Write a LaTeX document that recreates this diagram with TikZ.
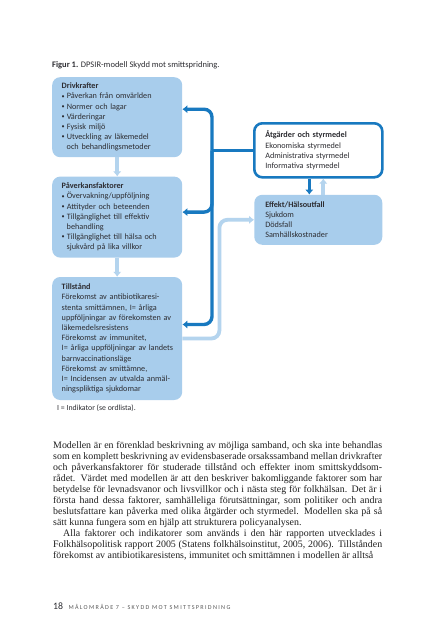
\documentclass[tikz,border=0pt]{standalone}
\usepackage{fontspec}
\usepackage{graphicx}
\setmainfont{Liberation Serif}
\newfontfamily\boxfont{Carlito}
\newfontfamily\runfont[LetterSpace=22]{Carlito}
\usetikzlibrary{positioning,arrows.meta}
\definecolor{boxblue}{RGB}{168,205,236}
\definecolor{paleblue}{RGB}{180,212,238}
\definecolor{linkblue}{RGB}{24,121,192}
\definecolor{inkgray}{RGB}{45,45,50}
\newcommand\itm{\raisebox{0.2ex}{\scalebox{0.75}{•}}\hspace{2pt}}

\begin{document}
\begin{tikzpicture}[x=1pt, y=-1pt,
  >={Latex[length=5pt,width=8.5pt]},
  factor/.style={rectangle, rounded corners=8pt, fill=boxblue, text=inkgray, anchor=north west,
    text width=117pt, inner xsep=6.5pt, inner ysep=4pt, align=left,
    font=\boxfont\fontsize{8.2}{10.2}\selectfont},
  action/.style={factor, fill=white, draw=linkblue, line width=2.6pt, text width=106pt, inner xsep=11pt},
  effect/.style={factor, text width=106pt, inner xsep=11pt},
  link/.style={draw=linkblue, line width=3.4pt, rounded corners=8pt},
  feed/.style={draw=paleblue, line width=3.8pt, rounded corners=8pt},
  note/.style={anchor=base west, inner sep=0pt, text=inkgray, font=\boxfont\fontsize{8.5}{10.2}\selectfont}]
\useasboundingbox[fill=white] (0,0) rectangle (436,640);

% Rubrik
\node[note] (caption) at (52,67) {\textbf{Figur 1.} DPSIR-modell Skydd mot smittspridning.};

% Vänstra kolumnen
\node[factor, minimum height=80pt] (driv) at (52,77) {\hspace*{3pt}\textbf{Drivkrafter}\\
  \hspace*{3pt}\itm Påverkan från omvärlden\\
  \hspace*{3pt}\itm Normer och lagar\\
  \hspace*{3pt}\itm Värderingar\\
  \hspace*{3pt}\itm Fysisk miljö\\
  \hspace*{3pt}\itm Utveckling av läkemedel\\
  \hspace*{8pt}och behandlingsmetoder};
\node[factor, minimum height=81pt, below=19pt of driv] (pav) {\hspace*{3pt}\textbf{Påverkansfaktorer}\\
  \hspace*{3pt}\itm Övervakning/uppföljning\\
  \hspace*{3pt}\itm Attityder och beteenden\\
  \hspace*{3pt}\itm Tillgänglighet till effektiv\\
  \hspace*{8pt}behandling\\
  \hspace*{3pt}\itm Tillgänglighet till hälsa och\\
  \hspace*{8pt}sjukvård på lika villkor};
\node[factor, minimum height=123pt, below=19pt of pav] (tillst) {\hspace*{3pt}\textbf{Tillstånd}\\
  \hspace*{3pt}Förekomst av antibiotikaresi-\\
  \hspace*{3pt}stenta smittämnen, I= årliga\\
  \hspace*{3pt}uppföljningar av förekomsten av\\
  \hspace*{3pt}läkemedelsresistens\\
  \hspace*{3pt}Förekomst av immunitet,\\
  \hspace*{3pt}I= årliga uppföljningar av landets\\
  \hspace*{3pt}barnvaccinationsläge\\
  \hspace*{3pt}Förekomst av smittämne,\\
  \hspace*{3pt}I= Incidensen av utvalda anmäl-\\
  \hspace*{3pt}ningspliktiga sjukdomar};
\node[note, font=\boxfont\fontsize{7.8}{9}\selectfont] (indik) at (57,410) {I = Indikator (se ordlista).};

% Högra kolumnen
\node[action, minimum height=54pt] (atg) at (253,122) {\textbf{Åtgärder och styrmedel}\\
  Ekonomiska styrmedel\\
  Administrativa styrmedel\\
  Informativa styrmedel};
\node[effect, minimum height=50pt, below=16pt of atg] (eff) {\textbf{Effekt/Hälsoutfall}\\
  Sjukdom\\
  Dödsfall\\
  Samhällskostnader};
\coordinate (hub) at ([xshift=-41pt]atg.west);

% Pilar
\draw[feed, ->] (driv) -- (pav);
\draw[feed, ->] (pav) -- (tillst);
\draw[feed, ->] (tillst.east) -- ++(37pt,0) |- (eff.west);
\draw[link] (atg) -- (hub);
\draw[link, ->] (hub) |- ([yshift=8pt]driv.east);
\draw[link, ->] (hub) |- ([yshift=5pt]pav.east);
\draw[link, ->] (hub) |- ([yshift=14pt]tillst.east);
\draw[link, ->] ([xshift=-9pt]atg.south) -- ([xshift=-9pt]eff.north);
\draw[feed, ->] ([xshift=5pt]eff.north) -- ([xshift=5pt]atg.south);

% Brödtext
\node[anchor=north west, text width=329pt, inner sep=0pt, align=justify,
  font=\fontsize{9.9}{11}\selectfont, text=black!88] (body) at (53,441) {\parindent=10pt\noindent
  Modellen är en förenklad beskrivning av möjliga samband, och ska inte behandlas\linebreak
  som en komplett beskrivning av evidensbaserade orsakssamband mellan drivkrafter\linebreak
  och påverkansfaktorer för studerade tillstånd och effekter inom smittskyddsom-\linebreak
  rådet. Värdet med modellen är att den beskriver bakomliggande faktorer som har\linebreak
  betydelse för levnadsvanor och livsvillkor och i nästa steg för folkhälsan. Det är i\linebreak
  första hand dessa faktorer, samhälleliga förutsättningar, som politiker och andra\linebreak
  beslutsfattare kan påverka med olika åtgärder och styrmedel. Modellen ska på så\linebreak
  sätt kunna fungera som en hjälp att strukturera policyanalysen.\par
  \parfillskip=0pt
  Alla faktorer och indikatorer som används i den här rapporten utvecklades i\linebreak
  Folkhälsopolitisk rapport 2005 (Statens folkhälsoinstitut, 2005, 2006). Tillstånden\linebreak
  förekomst av antibiotikaresistens, immunitet och smittämnen i modellen är alltså};

% Sidfot
\node[note, font=\boxfont\fontsize{9.8}{11}\selectfont] (pagenum) at (53,609) {18};
\node[note, font=\runfont\fontsize{6.1}{7}\selectfont, text=black!65] (running) at ([xshift=5pt]pagenum.base east) {MÅLOMRÅDE 7 – SKYDD MOT SMITTSPRIDNING};
\end{tikzpicture}
\end{document}
